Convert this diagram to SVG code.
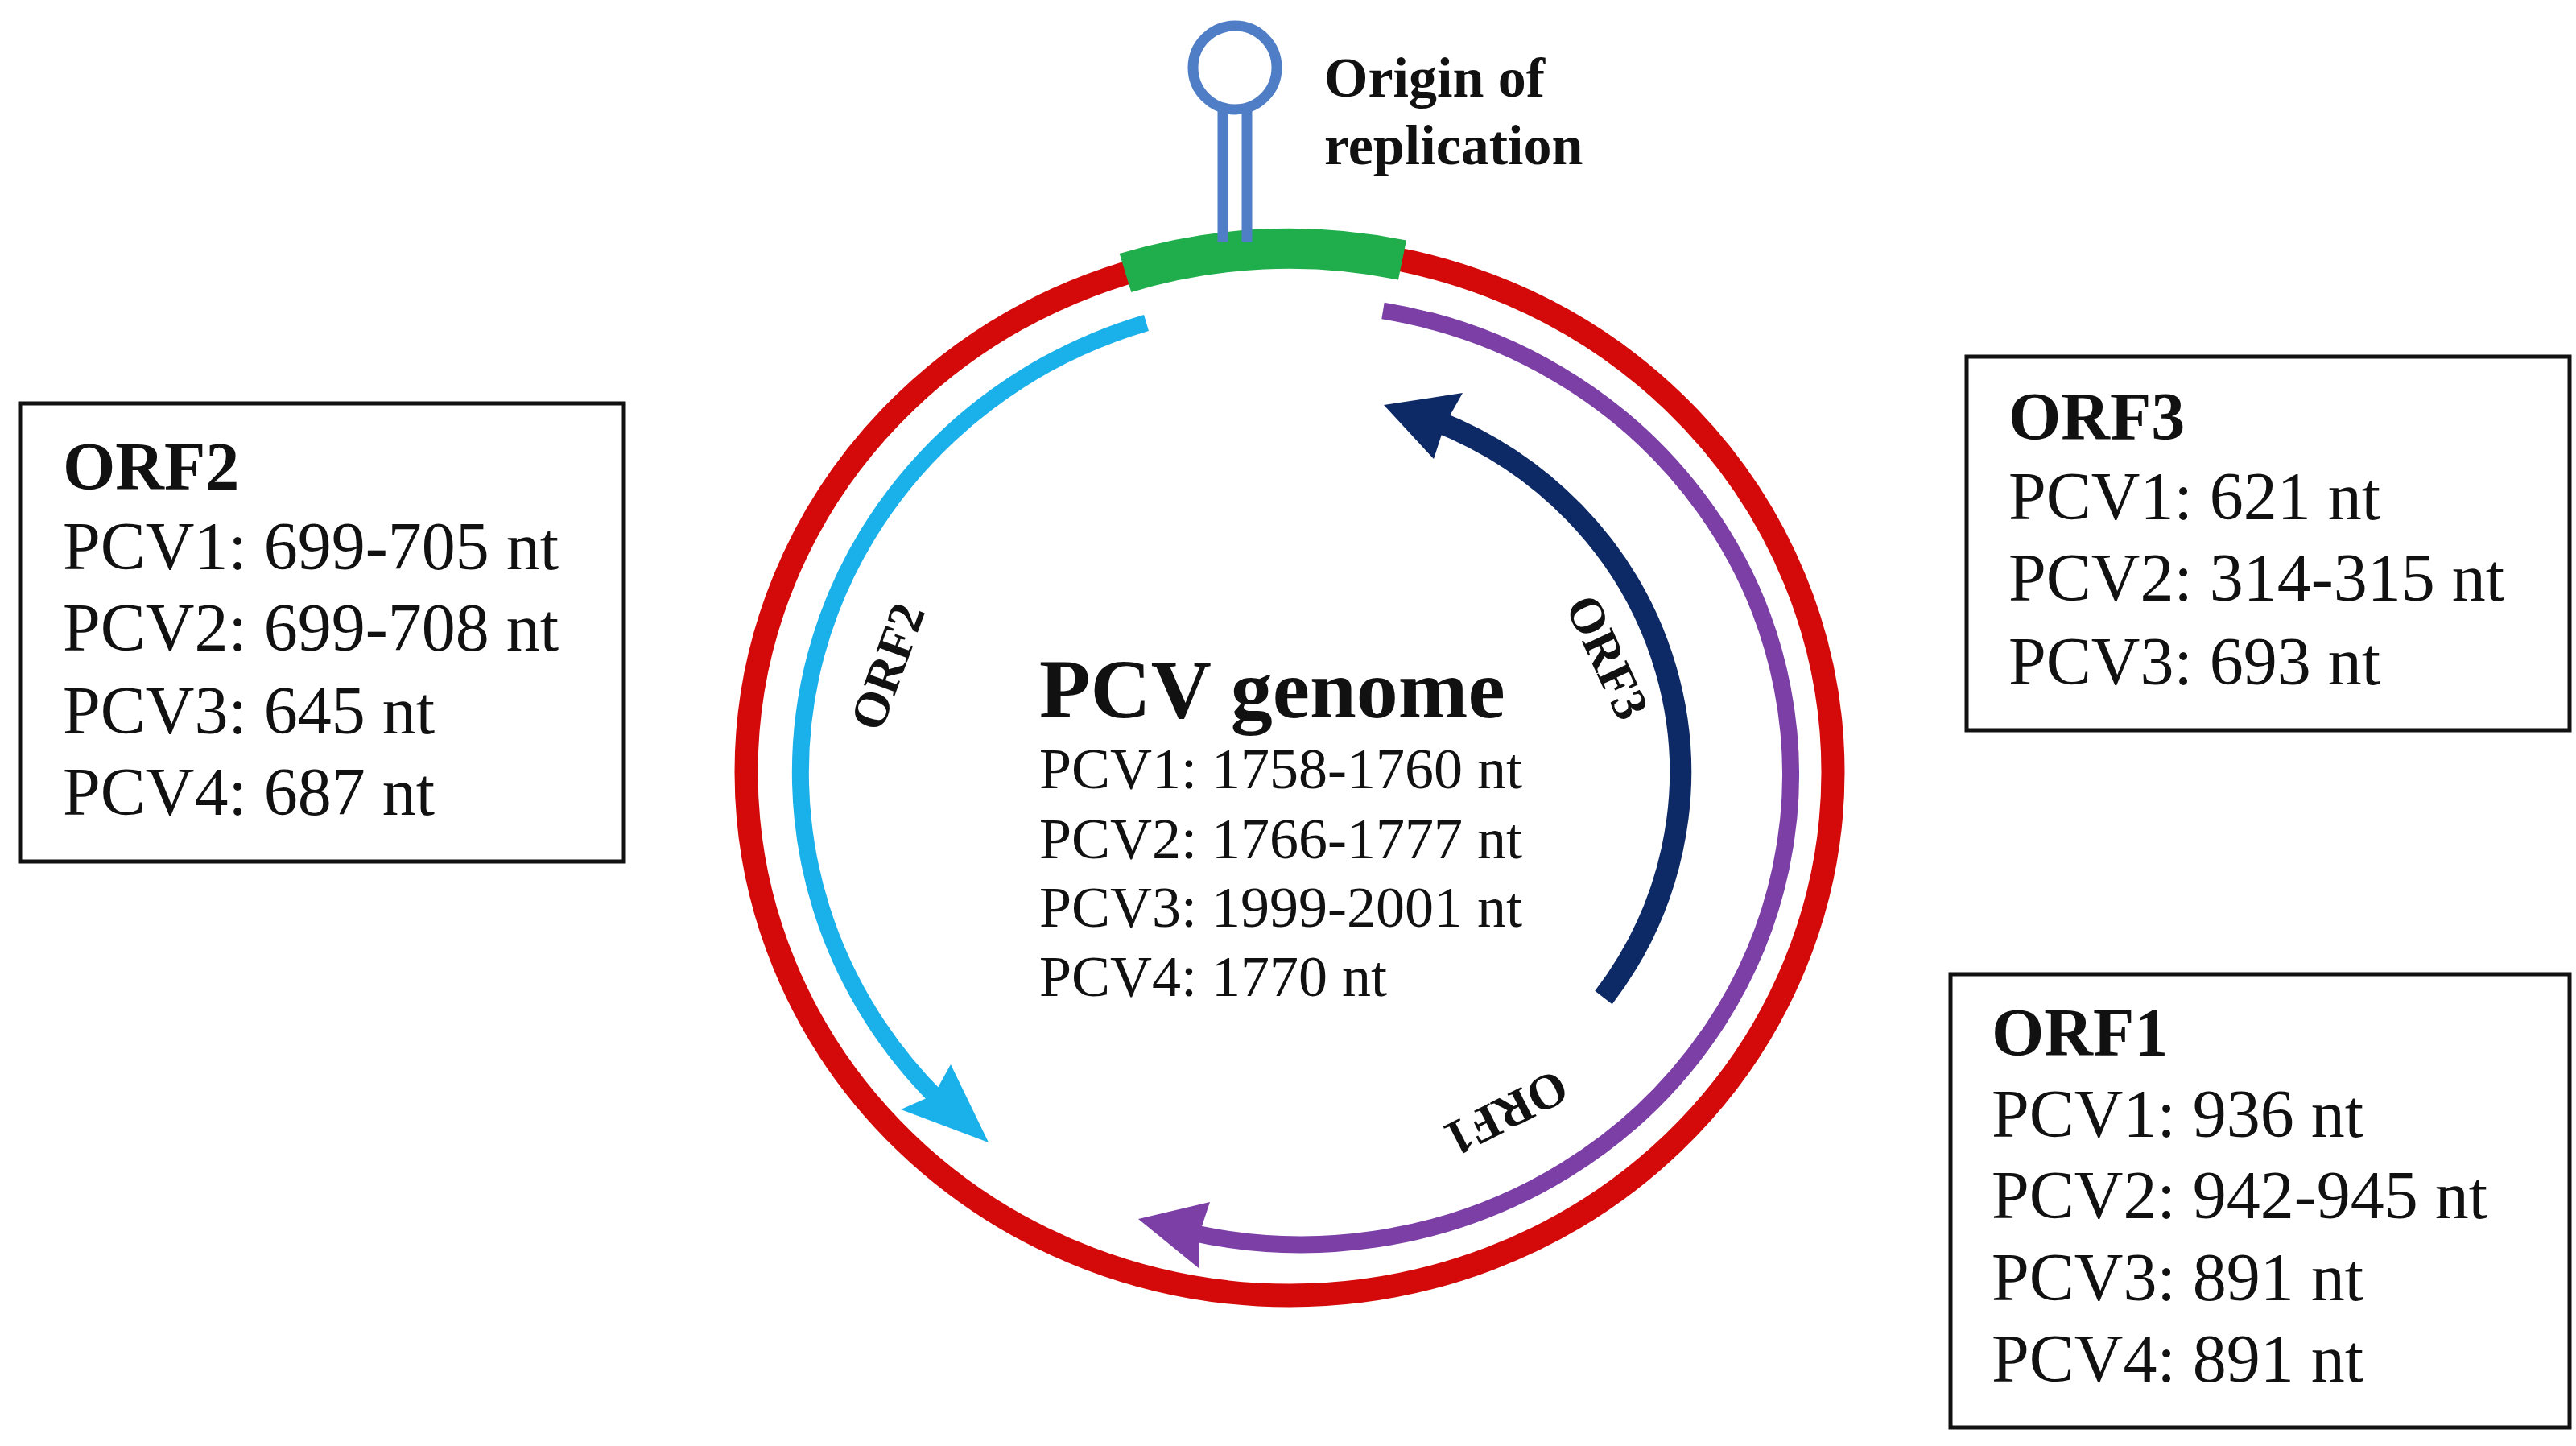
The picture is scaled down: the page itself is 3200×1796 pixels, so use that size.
<svg xmlns="http://www.w3.org/2000/svg" width="3200" height="1796" viewBox="0 0 3200 1796">
<style>
text{font-family:"Liberation Serif","DejaVu Serif",serif;fill:#111}
.b{font-weight:bold}
.box{fill:#fff;stroke:#111;stroke-width:5}
.t{font-size:84px}
.h{font-size:84px;font-weight:bold}
.arc{fill:none}
</style>
<rect width="3200" height="1796" fill="#fff"/>
<g id="genome">
<ellipse cx="1602" cy="959" rx="675" ry="650" fill="none" stroke="#d40a0a" stroke-width="29"/>
<path d="M1398,339 A675,650 0 0 1 1742,323" fill="none" stroke="#1fae4b" stroke-width="50"/>
</g>
<g id="origin">
<line x1="1519" y1="125" x2="1519" y2="300" stroke="#4f7ec6" stroke-width="13"/>
<line x1="1549" y1="125" x2="1549" y2="300" stroke="#4f7ec6" stroke-width="13"/>
<circle cx="1534" cy="84" r="52" fill="#fff" stroke="#4f7ec6" stroke-width="13"/>
<text class="b" x="1645" y="120" font-size="70">Origin of</text>
<text class="b" x="1645" y="204" font-size="70">replication</text>
</g>
<g id="connectors">
<path class="arc" d="M1424,401 A608,584 0 0 0 1165,1365" stroke="#1ab0ea" stroke-width="21"/>
<polygon points="1228,1419 1119,1378 1160,1360 1181,1322" fill="#1ab0ea"/>
<path class="arc" d="M1718,386 A608,584 0 1 1 1476,1530" stroke="#7b3fa6" stroke-width="21"/>
<polygon points="1414,1514 1503,1493 1490,1532 1489,1575" fill="#7b3fa6"/>
<path class="arc" d="M1992,1239 A485,470 0 0 0 1784,523" stroke="#0d2a66" stroke-width="27"/>
<polygon points="1719,503 1817,488 1795,527 1781,570" fill="#0d2a66"/>
</g>
<g id="labels">
<text class="b" font-size="62" text-anchor="middle" transform="translate(1122,835) rotate(-70)">ORF2</text>
<text class="b" font-size="62" text-anchor="middle" transform="translate(1978,825) rotate(65)">ORF3</text>
<text class="b" font-size="62" text-anchor="middle" transform="translate(1862,1364) rotate(153)">ORF1</text>
</g>
<g id="center">
<text class="b" x="1291" y="891" font-size="104">PCV genome</text>
<text x="1291" y="979" font-size="72">PCV1: 1758-1760 nt</text>
<text x="1291" y="1066" font-size="72">PCV2: 1766-1777 nt</text>
<text x="1291" y="1151" font-size="72">PCV3: 1999-2001 nt</text>
<text x="1291" y="1237" font-size="72">PCV4: 1770 nt</text>
</g>
<g id="orf2box">
<rect class="box" x="25" y="501" width="750" height="569"/>
<text class="h" x="78" y="608">ORF2</text>
<text class="t" x="78" y="707">PCV1: 699-705 nt</text>
<text class="t" x="78" y="808">PCV2: 699-708 nt</text>
<text class="t" x="78" y="911">PCV3: 645 nt</text>
<text class="t" x="78" y="1012">PCV4: 687 nt</text>
</g>
<g id="orf3box">
<rect class="box" x="2443" y="443" width="749" height="464"/>
<text class="h" x="2495" y="546">ORF3</text>
<text class="t" x="2495" y="645">PCV1: 621 nt</text>
<text class="t" x="2495" y="746">PCV2: 314-315 nt</text>
<text class="t" x="2495" y="850">PCV3: 693 nt</text>
</g>
<g id="orf1box">
<rect class="box" x="2423" y="1210" width="769" height="563"/>
<text class="h" x="2474" y="1311">ORF1</text>
<text class="t" x="2474" y="1412">PCV1: 936 nt</text>
<text class="t" x="2474" y="1513">PCV2: 942-945 nt</text>
<text class="t" x="2474" y="1615">PCV3: 891 nt</text>
<text class="t" x="2474" y="1716">PCV4: 891 nt</text>
</g>
</svg>
